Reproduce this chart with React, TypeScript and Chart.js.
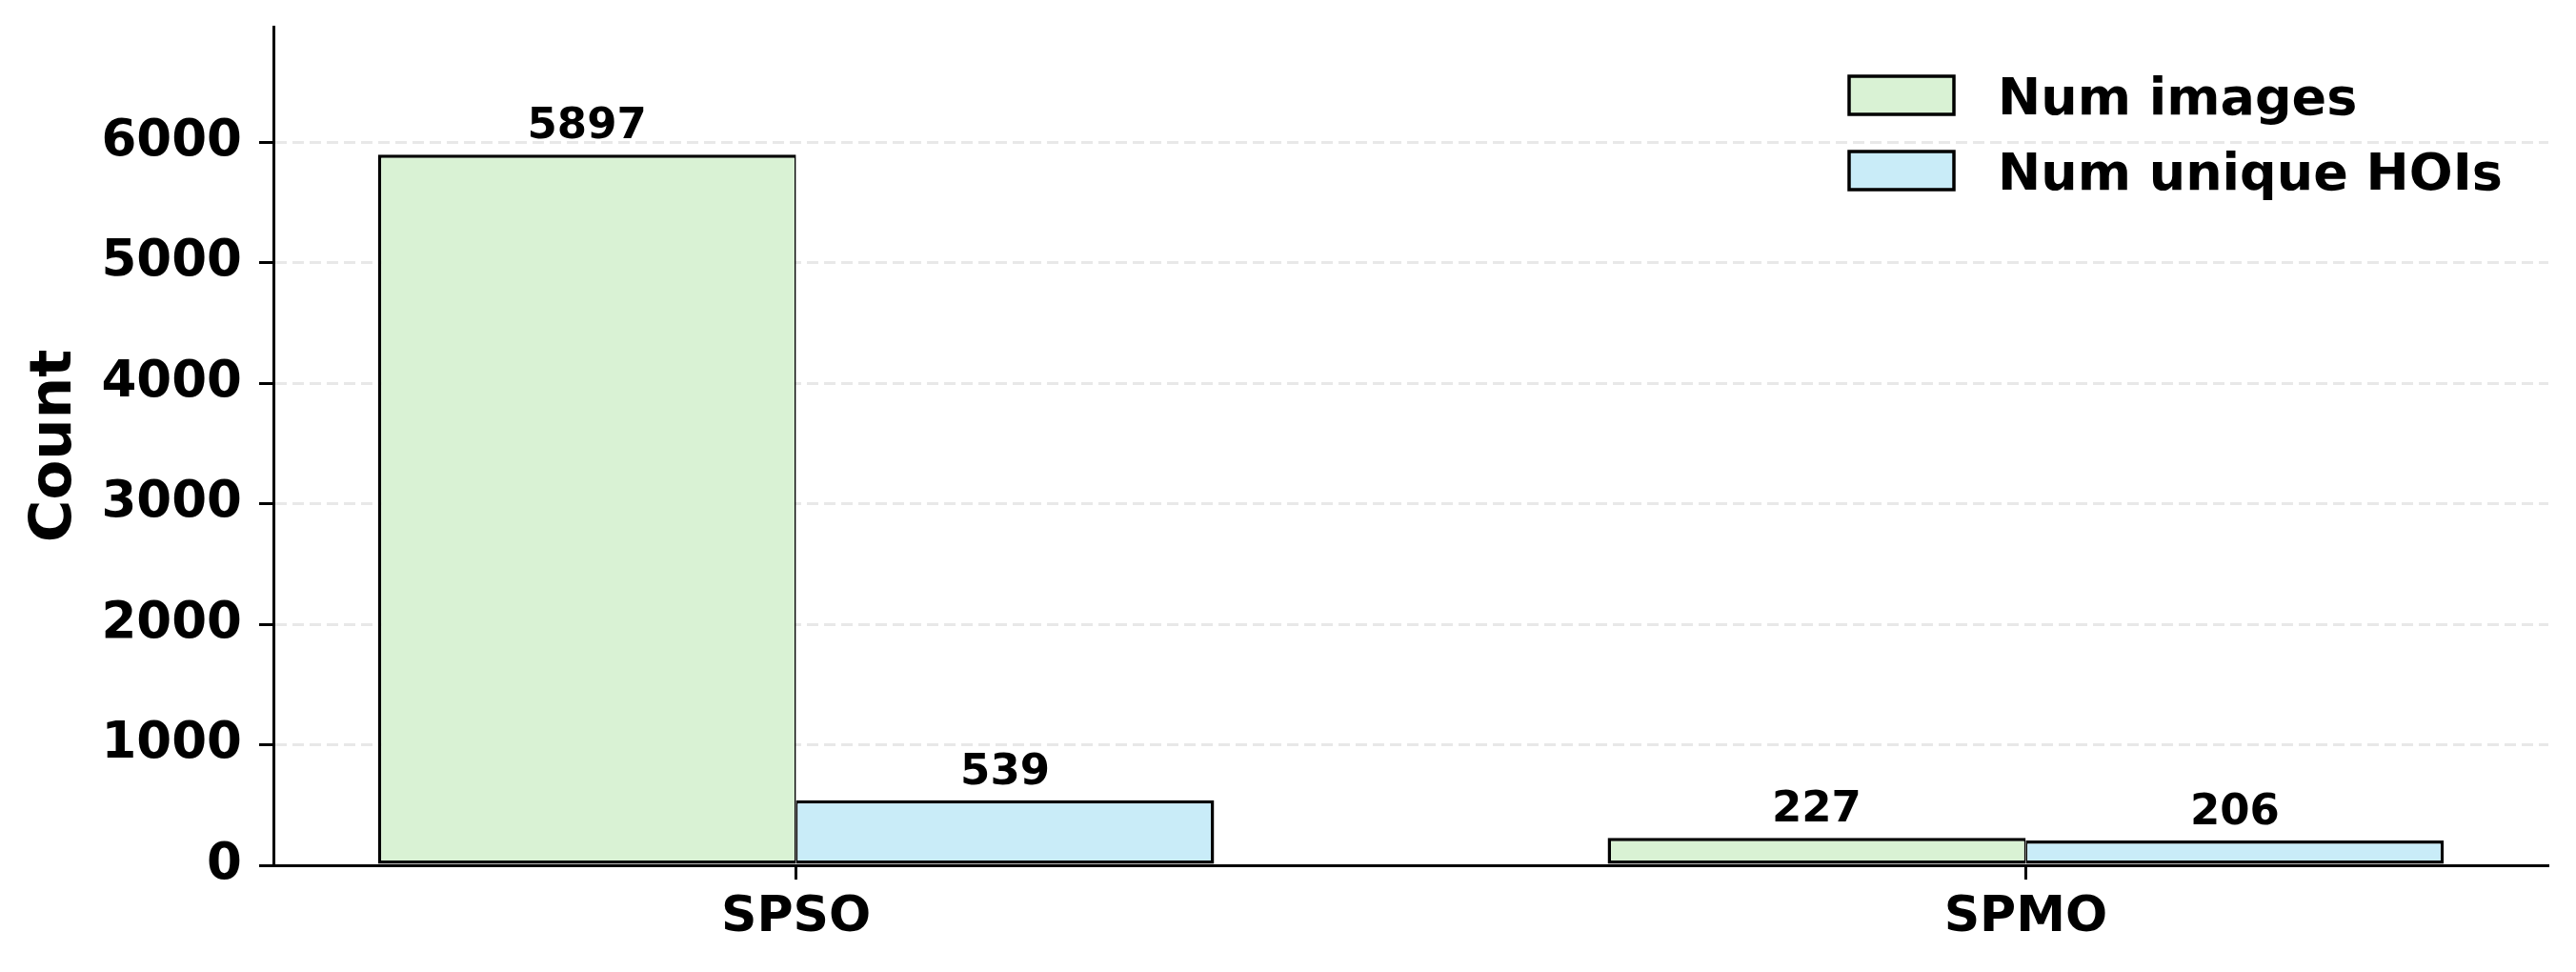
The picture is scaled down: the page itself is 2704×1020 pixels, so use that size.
import { useEffect, useRef } from "react";
import { Chart, registerables } from "chart.js";

Chart.register(...registerables);

// Chart data
const categories = ["SPSO", "SPMO"];
const seriesLabels = ["Num images", "Num unique HOIs"];
const numImages = [5897, 227];
const numUniqueHois = [539, 206];
const yTicks = [0, 1000, 2000, 3000, 4000, 5000, 6000];

const FONT = "'DejaVu Sans', 'Liberation Sans', sans-serif";
const GREEN = "#d9f2d4";
const BLUE = "#c9ecf8";

// value labels above every bar
const barLabels = {
  id: "barLabels",
  afterDatasetsDraw(chart: Chart) {
    const ctx = chart.ctx;
    ctx.save();
    ctx.font = `bold 45px ${FONT}`;
    ctx.fillStyle = "#000";
    ctx.textAlign = "center";
    ctx.textBaseline = "alphabetic";
    chart.data.datasets.forEach((ds, di) => {
      const meta = chart.getDatasetMeta(di);
      meta.data.forEach((el: any, i) => {
        const raw: any = ds.data[i];
        ctx.fillText(String(raw.y), el.x, el.y - 17);
      });
    });
    ctx.restore();
  },
};

// matplotlib-like legend in the upper right of the plot area
const boxLegend = {
  id: "boxLegend",
  afterDraw(chart: Chart) {
    const ctx = chart.ctx;
    const area = chart.chartArea;
    const boxX = area.right - 734;
    ctx.save();
    chart.data.datasets.forEach((ds: any, i) => {
      const cy = area.top + 72 + i * 79;
      ctx.fillStyle = ds.backgroundColor;
      ctx.fillRect(boxX, cy - 20, 110, 40);
      ctx.lineWidth = 3.5;
      ctx.strokeStyle = "#000";
      ctx.strokeRect(boxX, cy - 20, 110, 40);
      ctx.fillStyle = "#000";
      ctx.font = `bold 54px ${FONT}`;
      ctx.textAlign = "left";
      ctx.textBaseline = "alphabetic";
      ctx.fillText(ds.label, boxX + 156, cy + 20);
    });
    ctx.restore();
  },
};

export default function App() {
  const chartRef = useRef<HTMLCanvasElement>(null);
  const chartInstance = useRef<Chart | null>(null);

  useEffect(() => {
    document.body.style.margin = "0";
    if (!chartRef.current) return;
    if (chartInstance.current) chartInstance.current.destroy();

    const ctx = chartRef.current.getContext("2d");
    if (!ctx) return;

    chartInstance.current = new Chart(ctx, {
      type: "bar",
      data: {
        datasets: [
          {
            label: seriesLabels[0],
            data: numImages.map((v, i) => ({ x: i, y: v })),
            backgroundColor: GREEN,
            borderColor: "#000",
            borderWidth: { top: 3.5, left: 3.5, bottom: 3.5, right: 1.75 },
            borderSkipped: false,
            categoryPercentage: 0.68,
            barPercentage: 1,
          },
          {
            label: seriesLabels[1],
            data: numUniqueHois.map((v, i) => ({ x: i, y: v })),
            backgroundColor: BLUE,
            borderColor: "#000",
            borderWidth: { top: 3.5, left: 1.75, bottom: 3.5, right: 3.5 },
            borderSkipped: false,
            categoryPercentage: 0.68,
            barPercentage: 1,
          },
        ],
      },
      options: {
        responsive: true,
        maintainAspectRatio: false,
        animation: false,
        events: [],
        layout: { padding: { left: 0, right: 29, top: 28, bottom: 0 } },
        font: { family: FONT },
        scales: {
          x: {
            type: "linear",
            min: -0.425,
            max: 1.425,
            offset: false,
            afterBuildTicks: (scale: any) => {
              scale.ticks = categories.map((_, i) => ({ value: i }));
            },
            afterFit: (scale: any) => {
              scale.height = 112;
              scale.paddingLeft = 0;
              scale.paddingRight = 0;
            },
            ticks: {
              callback: (value: any) => categories[value] ?? "",
              color: "#000",
              font: { family: FONT, size: 52, weight: "bold" },
              padding: 9,
              maxRotation: 0,
              autoSkip: false,
            },
            grid: {
              offset: false,
              drawOnChartArea: false,
              drawTicks: true,
              tickLength: 15,
              tickColor: "#000",
              tickWidth: 3,
            },
            border: { display: true, color: "#000", width: 3 },
          },
          y: {
            min: 0,
            max: 6958,
            afterBuildTicks: (scale: any) => {
              scale.ticks = yTicks.map((v) => ({ value: v }));
            },
            afterFit: (scale: any) => {
              scale.width = 287;
              scale.paddingTop = 0;
              scale.paddingBottom = 0;
            },
            ticks: {
              callback: (value: any) => String(value),
              color: "#000",
              font: { family: FONT, size: 53, weight: "bold" },
              padding: 18,
            },
            grid: {
              color: (c: any) => (c.tick && c.tick.value === 0 ? "rgba(0,0,0,0)" : "#e8e8e8"),
              lineWidth: 3,
              tickLength: 15,
              tickColor: "#000",
              tickWidth: 3,
            },
            border: { display: true, color: "#000", width: 3, dash: [12, 6] },
            title: {
              display: true,
              text: "Count",
              color: "#000",
              font: { family: FONT, size: 61, weight: "bold" },
              padding: { top: 22, bottom: 0 },
            },
          },
        },
        plugins: {
          legend: { display: false },
          tooltip: { enabled: false },
        },
      },
      plugins: [barLabels, boxLegend],
    });

    return () => {
      if (chartInstance.current) {
        chartInstance.current.destroy();
        chartInstance.current = null;
      }
    };
  }, []);

  return (
    <div style={{ width: 2704, height: 1020, position: "relative" }}>
      <canvas ref={chartRef} />
    </div>
  );
}
